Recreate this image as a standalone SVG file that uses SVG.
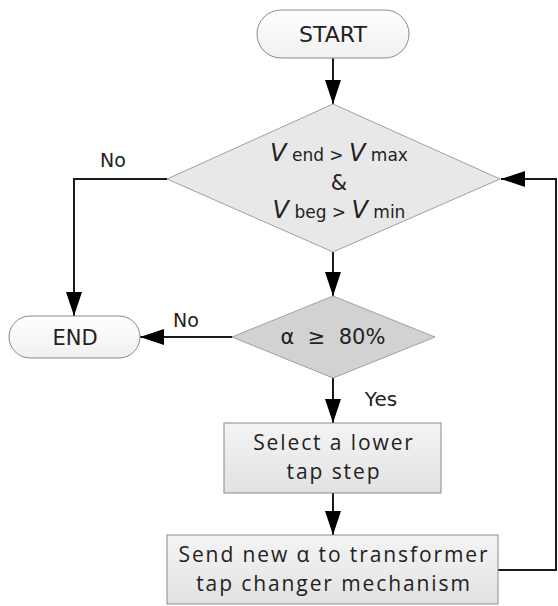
<svg xmlns="http://www.w3.org/2000/svg" width="558" height="606" viewBox="0 0 558 606">
<defs>
<linearGradient id="gTerm" x1="0" y1="0" x2="0" y2="1"><stop offset="0" stop-color="#ffffff"/><stop offset="1" stop-color="#f0f0f0"/></linearGradient>
<linearGradient id="gBox" x1="0" y1="0" x2="0" y2="1"><stop offset="0" stop-color="#f4f4f4"/><stop offset="1" stop-color="#e2e2e2"/></linearGradient>
<marker id="ah" viewBox="0 0 24 16" refX="24" refY="8" markerWidth="24" markerHeight="16" markerUnits="userSpaceOnUse" orient="auto"><path d="M0,0 L24,8 L0,16 Z" fill="#000"/></marker>
</defs>
<style>
.term{fill:url(#gTerm);stroke:#8a8a8a;stroke-width:1}
.box{fill:url(#gBox);stroke:#8a8a8a;stroke-width:1}
.d1{fill:#e8e8e8;stroke:#a0a0a0;stroke-width:1}
.d2{fill:#d2d2d2;stroke:#a0a0a0;stroke-width:1}
.conn{fill:none;stroke:#1a1a1a;stroke-width:2;marker-end:url(#ah)}
.t{font-family:"DejaVu Sans",sans-serif;fill:#222;text-anchor:middle}
.b{font-family:"Open Sans","Liberation Sans",sans-serif;fill:#222;text-anchor:middle;font-size:21px;letter-spacing:1.9px}
</style>
<g id="connectors">
<path class="conn" d="M333,58 V104"/>
<path class="conn" d="M167,179 H74 V316"/>
<path class="conn" d="M333,252 V296"/>
<path class="conn" d="M232,337 H140"/>
<path class="conn" d="M333,378 V423"/>
<path class="conn" d="M333,493 V535"/>
<path class="conn" d="M498,570 H556 V179 H501"/>
<text class="t" x="113" y="167" font-size="19">No</text>
<text class="t" x="186" y="327" font-size="19">No</text>
<text class="t" x="381" y="406" font-size="20">Yes</text>
</g>
<g id="start">
<rect class="term" x="257" y="10" width="152" height="48" rx="24"/>
<text class="t" x="333" y="42" font-size="22">START</text>
</g>
<g id="cond1">
<polygon class="d1" points="333,104 500,179 333,252 167,179"/>
<text class="t" x="339" y="161" font-size="17"><tspan font-size="24" font-style="italic">V</tspan> end &gt; <tspan font-size="24" font-style="italic">V</tspan> max</text>
<text class="t" x="339" y="190" font-size="21">&amp;</text>
<text class="t" x="339" y="218" font-size="17"><tspan font-size="24" font-style="italic">V</tspan> beg &gt; <tspan font-size="24" font-style="italic">V</tspan> min</text>
</g>
<g id="end">
<rect class="term" x="9" y="316" width="131" height="42" rx="21"/>
<text class="t" x="75" y="345" font-size="21">END</text>
</g>
<g id="cond2">
<polygon class="d2" points="333,296 435,337 333,378 232,337"/>
<text class="t" x="333" y="344" font-size="21" xml:space="preserve">α  ≥  80%</text>
</g>
<g id="select">
<rect class="box" x="224" y="423" width="217" height="70"/>
<text class="b" x="334" y="450">Select a lower</text>
<text class="b" x="334" y="479">tap step</text>
</g>
<g id="send">
<rect class="box" x="167" y="535" width="331" height="69"/>
<text class="b" x="334" y="562">Send new α to transformer</text>
<text class="b" x="334" y="591">tap changer mechanism</text>
</g>
</svg>
